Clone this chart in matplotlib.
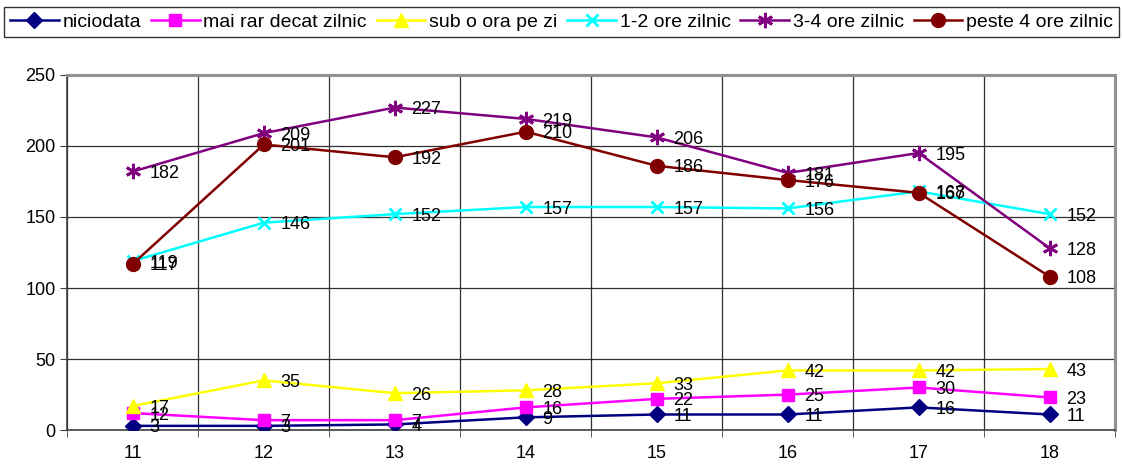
import numpy as np
import matplotlib.pyplot as plt

plt.rcParams['font.family'] = ['Liberation Sans', 'DejaVu Sans']

# date
categorii = ['11', '12', '13', '14', '15', '16', '17', '18']
niciodata = [3, 3, 4, 9, 11, 11, 16, 11]
mai_rar = [12, 7, 7, 16, 22, 25, 30, 23]
sub_o_ora = [17, 35, 26, 28, 33, 42, 42, 43]
ore_1_2 = [119, 146, 152, 157, 157, 156, 168, 152]
ore_3_4 = [182, 209, 227, 219, 206, 181, 195, 128]
peste_4 = [117, 201, 192, 210, 186, 176, 167, 108]

serii = [
    ("niciodata", niciodata, "#000080", "D", 8),
    ("mai rar decat zilnic", mai_rar, "#FF00FF", "s", 9),
    ("sub o ora pe zi", sub_o_ora, "#FFFF00", "^", 10),
    ("1-2 ore zilnic", ore_1_2, "#00FFFF", "x", 9),
    ("3-4 ore zilnic", ore_3_4, "#800080", (6, 2, 0), 11),
    ("peste 4 ore zilnic", peste_4, "#800000", "o", 10),
]

fig = plt.figure(figsize=(11.23, 4.65), dpi=100)
ax = fig.add_axes([0.06, 0.075, 0.933, 0.764])

x = np.arange(len(categorii))
for nume, val, col, mk, ms in serii:
    ax.plot(x, val, color=col, marker=mk, markersize=ms, linewidth=1.8,
            markeredgewidth=2 if mk in ("x", (6, 2, 0)) else 1,
            markeredgecolor=col, label=nume, zorder=3)
    for xi, v in zip(x, val):
        ax.annotate(str(v), (xi, v), xytext=(12, -1.5), textcoords='offset points',
                    va='center', ha='left', fontsize=13, color='black', zorder=4)

ax.set_xlim(-0.5, len(categorii) - 0.5)
ax.set_ylim(0, 250)
ax.set_yticks(np.arange(0, 251, 50))
ax.set_xticks(x)
ax.set_xticklabels(categorii)
ax.set_xticks(np.arange(-0.5, len(categorii), 1), minor=True)
ax.tick_params(axis='x', which='major', length=0, pad=11, labelsize=13)
ax.tick_params(axis='x', which='minor', length=5, direction='out', color='#404040')
ax.tick_params(axis='y', length=5, direction='out', labelsize=13, color='#404040')
ax.grid(axis='y', color='#303030', linewidth=0.9)
ax.grid(axis='x', which='minor', color='#303030', linewidth=0.9)
ax.set_axisbelow(True)

for s in ['left', 'bottom']:
    ax.spines[s].set_color('#404040')
    ax.spines[s].set_linewidth(1.2)
for s in ['top', 'right']:
    ax.spines[s].set_color('#909090')
    ax.spines[s].set_linewidth(2.2)

leg = fig.legend(loc='upper center', bbox_to_anchor=(0.5, 0.985), ncol=6,
                 fontsize=14, frameon=True, fancybox=False, edgecolor='black',
                 handlelength=2.5, handletextpad=0.2, columnspacing=0.5,
                 borderpad=0.32, borderaxespad=0)
leg.get_frame().set_linewidth(1.0)

fig.savefig("out.png", dpi=100)
